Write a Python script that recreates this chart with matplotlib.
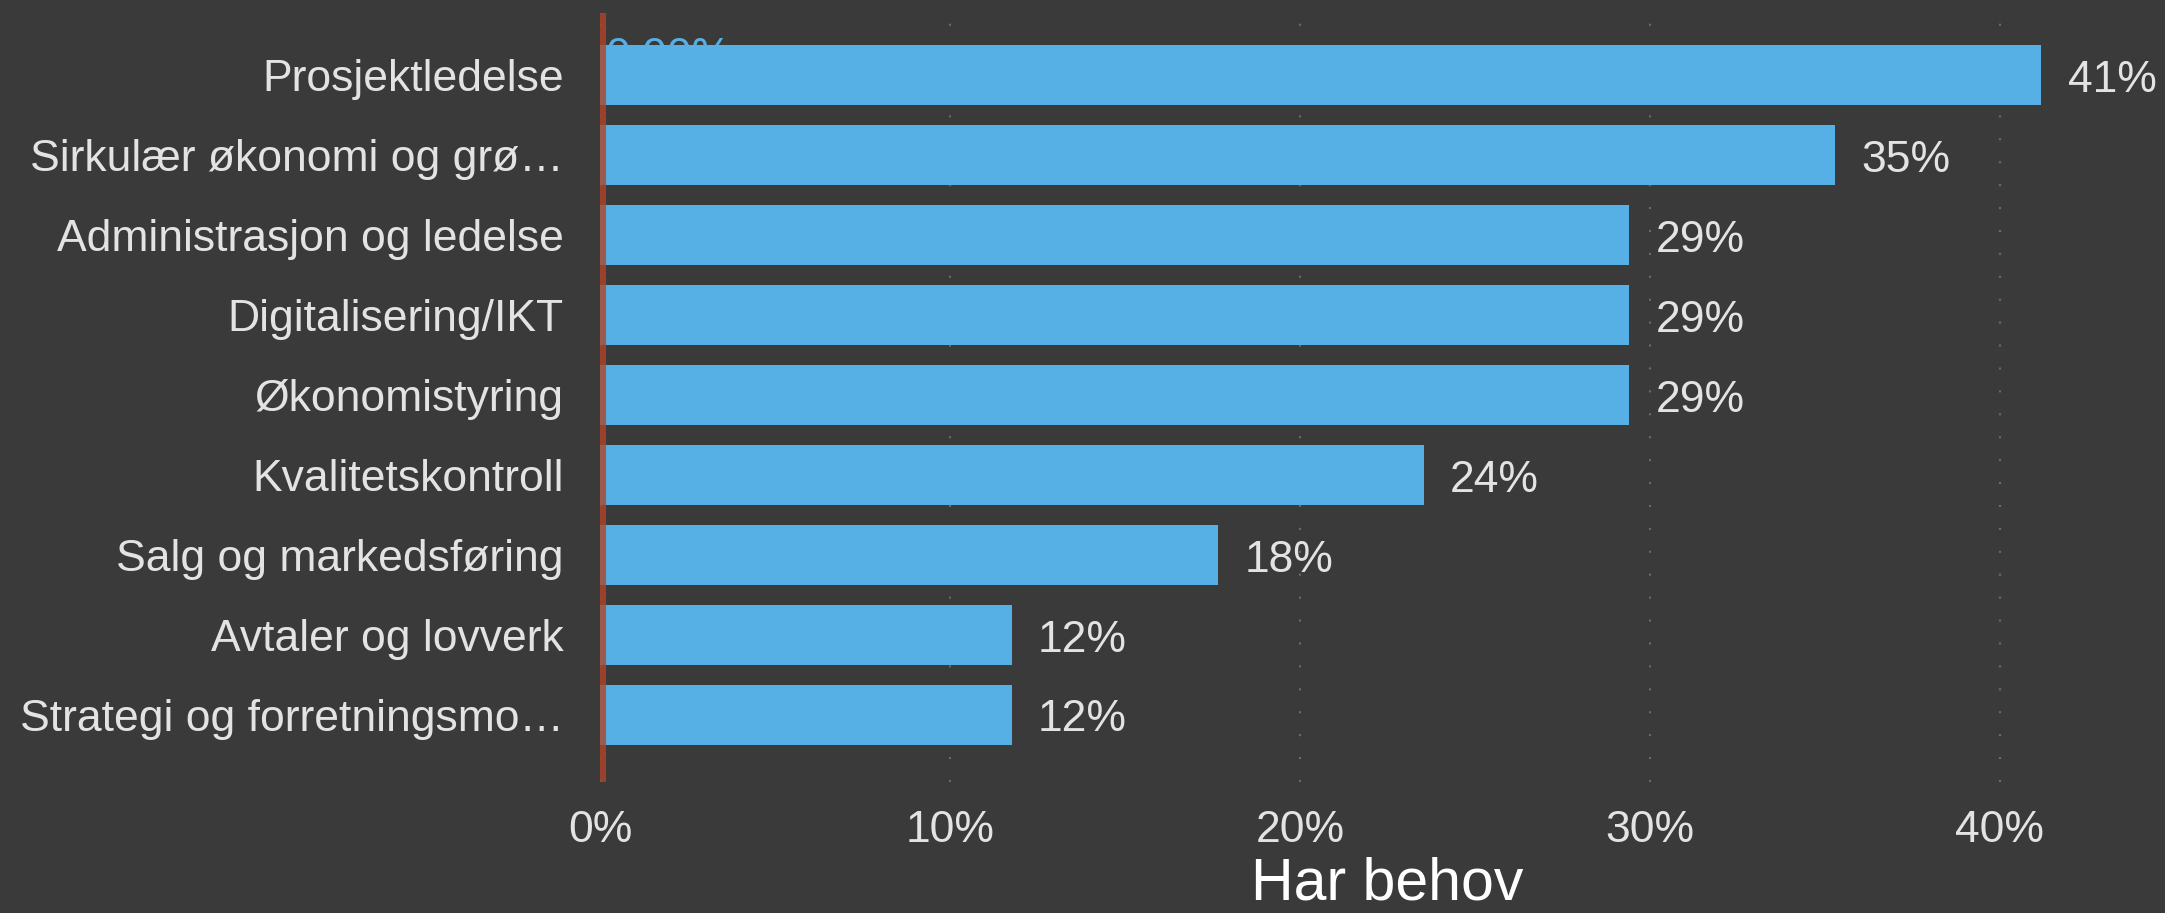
import matplotlib.pyplot as plt
from matplotlib.ticker import PercentFormatter

categories = ['Prosjektledelse', 'Sirkulær økonomi og grø…', 'Administrasjon og ledelse',
              'Digitalisering/IKT', 'Økonomistyring', 'Kvalitetskontroll',
              'Salg og markedsføring', 'Avtaler og lovverk', 'Strategi og forretningsmo…']
values = [0.4118, 0.3529, 0.2941, 0.2941, 0.2941, 0.2353, 0.1765, 0.1176, 0.1176]
ref_value = 0.0
x_ticks = [0.0, 0.1, 0.2, 0.3, 0.4]

BG = '#3A3A3A'
BAR = '#56B0E5'
TXT = '#E3E3E3'
REF = '#B0452A'

plt.rcParams['font.family'] = ['Liberation Sans', 'DejaVu Sans']

fig = plt.figure(figsize=(21.65, 9.13), dpi=100, facecolor=BG)
# axes spans pixel 600..2175 horizontally, 13..782 vertically
ax = fig.add_axes([600 / 2165, (913 - 782) / 913, 1575 / 2165, 769 / 913])
ax.set_facecolor(BG)

pos = list(range(len(categories)))
ax.barh(pos, values, height=0.75, color=BAR, zorder=3)

# reference line with its (mostly hidden) label
ax.axvline(ref_value, color=REF, linewidth=8, alpha=0.8, zorder=4)
ax.text(ref_value + 0.0015, -0.47, f'{ref_value:.2%}', color=BAR, fontsize=32,
        va='top', ha='left', zorder=2)

for p, v in zip(pos, values):
    ax.annotate(f'{v:.0%}', xy=(v, p), xytext=(19, -12), textcoords='offset points',
                va='baseline', ha='left', color=TXT, fontsize=32)

ax.set_xlim(0, 0.45)
ax.set_ylim(8.84, -0.775)
ax.set_yticks(pos)
ax.set_yticklabels(categories)
ax.set_xticks(x_ticks)
ax.xaxis.set_major_formatter(PercentFormatter(1.0, decimals=0))
ax.tick_params(axis='both', length=0, colors=TXT, labelsize=32)
ax.tick_params(axis='y', pad=26)
ax.tick_params(axis='x', pad=20)

ax.grid(axis='x', color='#6A6A6A', linewidth=1.5, linestyle=(0, (1, 10)), zorder=1)
ax.set_axisbelow(True)
for s in ax.spines.values():
    s.set_visible(False)

ax.set_xlabel('Har behov', color='#FFFFFF', fontsize=42.5, labelpad=4)

fig.savefig('out.png', dpi=100, facecolor=BG)
